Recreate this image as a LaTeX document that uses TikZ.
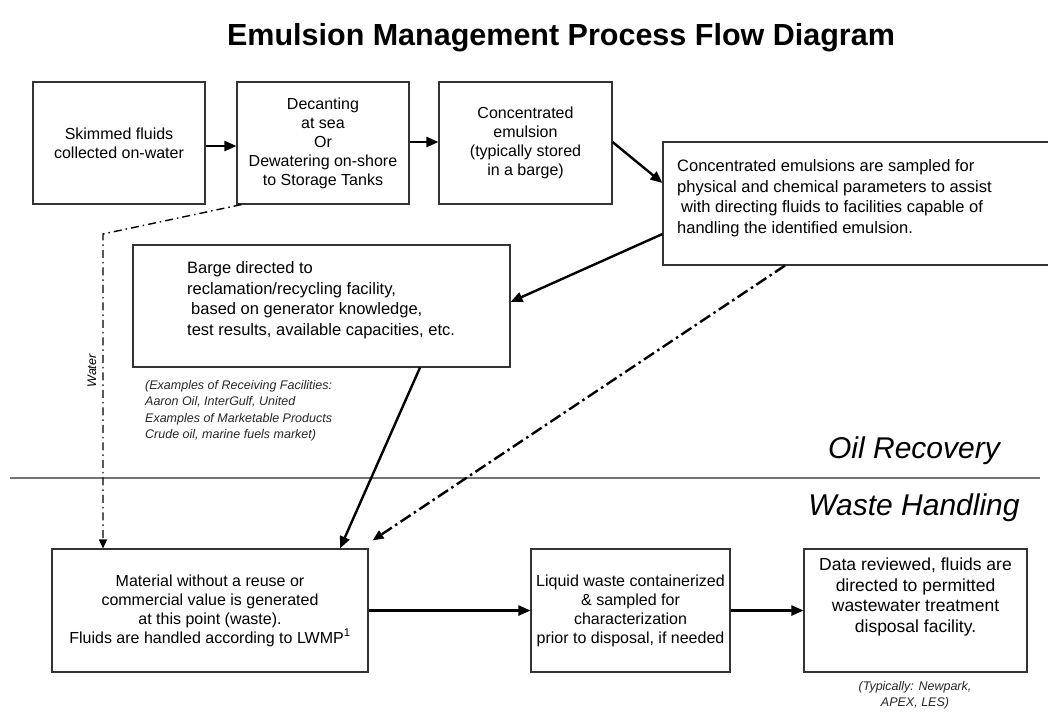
\documentclass[tikz,border=0pt]{standalone}
\usepackage{fontspec}
\setmainfont{Liberation Sans}
\usetikzlibrary{arrows.meta,calc}
\begin{document}
\begin{tikzpicture}[x=1pt,y=-1pt,
  box/.style={draw=black!80, line width=1.1pt, inner sep=0pt, align=center,
    font=\fontsize{16}{19}\selectfont},
  boxtext/.style={inner sep=0pt, font=\fontsize{16.5}{20.5}\selectfont},
  arr/.style={line width=2.4pt, -{Triangle[length=12pt,width=10pt]}},
  dasharr/.style={line width=2.4pt, dash pattern=on 12pt off 4pt on 2.5pt off 4pt,
    -{Triangle[length=11pt,width=9pt]}},
  waterarr/.style={line width=1.4pt, dash pattern=on 8pt off 4pt on 1.5pt off 4pt,
    -{Triangle[length=9pt,width=8pt]}},
  note/.style={inner sep=0pt, align=left, text=black!85,
    font=\fontsize{12.5}{16.5}\selectfont\itshape},
  region/.style={inner sep=0pt, font=\fontsize{30}{34}\selectfont\itshape}
]
\useasboundingbox (0,0) rectangle (1048,713);
\clip (0,0) rectangle (1048,713);

% title
\node[inner sep=0pt, font=\fontsize{30.5}{34}\selectfont\bfseries] (title) at (561,38)
  {Emulsion Management Process Flow Diagram};

% top row
\node[box, minimum width=172pt, minimum height=122pt] (box1) at (119,143)
  {Skimmed fluids\\collected on-water};
\node[box, minimum width=172pt, minimum height=122pt] (box2) at (323,143)
  {Decanting\\at sea\\Or\\Dewatering on-shore\\to Storage Tanks};
\node[box, minimum width=173pt, minimum height=122pt] (box3) at (525.5,143)
  {Concentrated\\emulsion\\(typically stored\\in a barge)};

% sampling box (runs off the right edge)
\node[box, minimum width=389pt, minimum height=123pt] (box4) at (857.5,203.5) {};
\node[boxtext, anchor=west, align=left] (box4text) at (677,198)
  {Concentrated emulsions are sampled for\\
   physical and chemical parameters to assist\\
   \hspace{4pt}with directing fluids to facilities capable of\\
   handling the identified emulsion.};

% barge box
\node[box, minimum width=377pt, minimum height=122pt] (box5) at (321.5,306) {};
\node[boxtext, anchor=west, align=left] (box5text) at (187,300)
  {Barge directed to\\
   reclamation/recycling facility,\\
   \hspace{4pt}based on generator knowledge,\\
   test results, available capacities, etc.};

% notes
\node[note, anchor=north west] (note1) at (145,380)
  {(Examples of Receiving Facilities:\\
   Aaron Oil, InterGulf, United\\
   Examples of Marketable Products\\
   Crude oil, marine fuels market)};

% divider and region labels
\coordinate (divl) at (10,478);
\coordinate (divr) at (1040,478);
\draw[black!55, line width=1.4pt] (divl) -- (divr);
\node[region] (oilrec) at (914,451) {Oil Recovery};
\node[region] (waste) at (914,508) {Waste Handling};

% bottom row
\node[box, minimum width=316pt, minimum height=123pt] (box6) at (210,610.5)
  {Material without a reuse or\\
   commercial value is generated\\
   at this point (waste).\\
   Fluids are handled according to LWMP\textsuperscript{1}};
\node[box, minimum width=199pt, minimum height=123pt] (box7) at (630.5,610.5)
  {Liquid waste containerized\\
   \& sampled for\\
   characterization\\
   prior to disposal, if needed};
\node[box, minimum width=223pt, minimum height=123pt] (box8) at (915.5,610.5) {};
\node[inner sep=0pt, align=center, font=\fontsize{17.5}{20.5}\selectfont] (box8text)
  at (915.5,597)
  {Data reviewed, fluids are\\
   directed to permitted\\
   wastewater treatment\\
   disposal facility.};
\node[note, align=center] (note2) at (915,695)
  {(Typically: Newpark,\\APEX, LES)};

% connectors
\draw[arr] ([yshift=-3pt]box1.east) -- ([yshift=-3pt]box2.west);
\draw[arr] ([yshift=1pt]box2.east) -- ([yshift=1pt]box3.west);
\draw[arr] ([yshift=1pt]box3.east) -- ([yshift=20.5pt]box4.west);
\draw[arr] ([yshift=-30.5pt]box4.west) -- ([yshift=4pt]box5.east);
\draw[arr] ([xshift=98.5pt]box5.south) -- ([xshift=130pt]box6.north);
\draw[dasharr] ([xshift=-72.5pt]box4.south) -- ([xshift=4pt,yshift=8pt]box6.north east);
\draw[arr] (box6.east) -- (box7.west);
\draw[arr] (box7.east) -- (box8.west);

% water line
\coordinate (wbend) at (103,234);
\draw[waterarr] ([xshift=5pt]box2.south west) -- (wbend) -- (wbend |- box6.north);
\node[inner sep=0pt, rotate=90, font=\fontsize{12.5}{14}\selectfont\itshape] (waterlbl)
  at (92,371) {Water};
\end{tikzpicture}
\end{document}
